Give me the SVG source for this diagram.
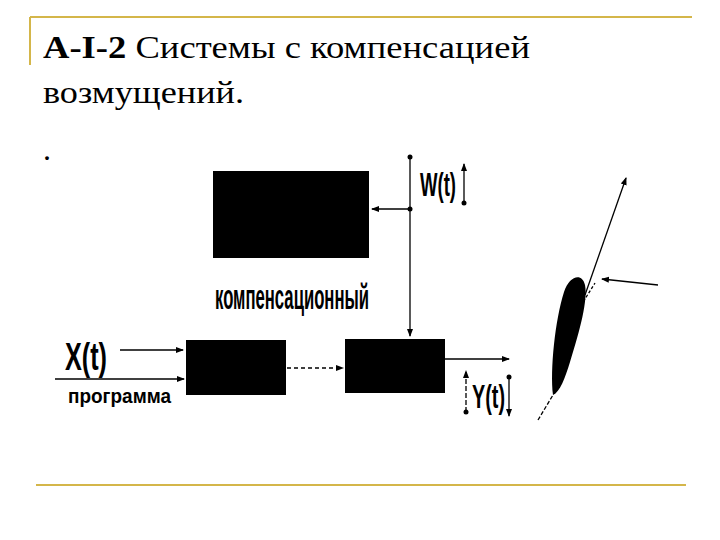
<svg xmlns="http://www.w3.org/2000/svg" width="720" height="540" viewBox="0 0 720 540">
<style>
.ln{stroke:#000;stroke-width:1.3;fill:none}
.t{font-family:"Liberation Sans",Arial,sans-serif;font-weight:bold;fill:#000}
.h{font-family:"Liberation Serif","DejaVu Serif","Times New Roman",serif;font-size:32px;fill:#000}
.blk{fill:#000}
</style>
<defs>
<marker id="a" markerWidth="8" markerHeight="8" refX="7" refY="4" orient="auto" markerUnits="userSpaceOnUse"><path d="M0,1 L8,4 L0,7 Z"/></marker>
</defs>
<rect width="720" height="540" fill="#fff"/>
<g id="frame" stroke="#d4b64a" stroke-width="2">
<line x1="30" y1="17" x2="692" y2="17"/>
<line x1="30" y1="17" x2="30" y2="65"/>
<line x1="36" y1="485" x2="686" y2="485"/>
</g>
<g id="title">
<text class="h" x="43" y="58" textLength="487" lengthAdjust="spacingAndGlyphs"><tspan font-weight="bold">А-I-2</tspan> Системы с компенсацией</text>
<text class="h" x="43" y="103" textLength="201" lengthAdjust="spacingAndGlyphs">возмущений.</text>
<text class="h" x="43" y="160">.</text>
</g>
<g id="comp"><rect class="blk" x="213" y="171" width="156" height="87"/>
<text class="t" x="0" y="0" font-size="24" textLength="154" lengthAdjust="spacingAndGlyphs" transform="translate(215,309) scale(1,1.45)">компенсационный</text></g>
<g id="b1"><rect class="blk" x="186" y="340" width="100" height="55"/></g>
<g id="b2"><rect class="blk" x="345" y="339" width="100" height="54"/></g>
<g id="labels">
<text class="t" x="0" y="0" font-size="28" font-weight="normal" textLength="42" lengthAdjust="spacingAndGlyphs" transform="translate(65,370) scale(1,1.4)">X(t)</text>
<text class="t" x="68" y="403" font-size="21" textLength="103" lengthAdjust="spacingAndGlyphs">программа</text>
<text class="t" x="0" y="0" font-size="24" font-weight="normal" textLength="36" lengthAdjust="spacingAndGlyphs" transform="translate(420,196) scale(1,1.4)">W(t)</text>
<text class="t" x="0" y="0" font-size="24" font-weight="normal" textLength="33" lengthAdjust="spacingAndGlyphs" transform="translate(472,408) scale(1,1.4)">Y(t)</text>
</g>
<g id="airfoil"><path class="blk" d="M553,395 C550,370 555,320 564,292 C569,276 582,272 585,285 C588,300 580,330 570,362 C565,378 560,392 553,395 Z"/></g>
<g id="connectors">
<line class="ln" x1="120" y1="350" x2="183" y2="350" marker-end="url(#a)"/>
<line class="ln" x1="55" y1="379" x2="184" y2="379" stroke-width="2" marker-end="url(#a)"/>
<line class="ln" x1="287" y1="368" x2="343" y2="368" stroke-dasharray="4,3" marker-end="url(#a)"/>
<line class="ln" x1="410" y1="157" x2="410" y2="336" marker-end="url(#a)"/>
<line class="ln" x1="410" y1="209" x2="372" y2="209" marker-end="url(#a)"/>
<circle cx="410" cy="157" r="2.5"/><circle cx="410" cy="209" r="2.5"/>
<line class="ln" x1="464" y1="203" x2="464" y2="164" marker-end="url(#a)"/>
<circle cx="464" cy="203" r="2.5"/>
<line class="ln" x1="445" y1="359" x2="509" y2="359" marker-end="url(#a)"/>
<line class="ln" x1="466" y1="412" x2="466" y2="371" stroke-dasharray="5,2" marker-end="url(#a)"/>
<circle cx="466" cy="412" r="2.5"/>
<line class="ln" x1="509" y1="377" x2="509" y2="416" marker-end="url(#a)"/>
<circle cx="509" cy="377" r="2.5"/>
<line class="ln" x1="538" y1="420" x2="553" y2="395" stroke-dasharray="4,2"/>
<line class="ln" x1="585" y1="295" x2="626" y2="178" marker-end="url(#a)"/>
<line class="ln" x1="578" y1="310" x2="595" y2="283" stroke-dasharray="3,2"/>
<line class="ln" x1="658" y1="285" x2="602" y2="279" stroke-width="1.8" marker-end="url(#a)"/>
</g>
</svg>
